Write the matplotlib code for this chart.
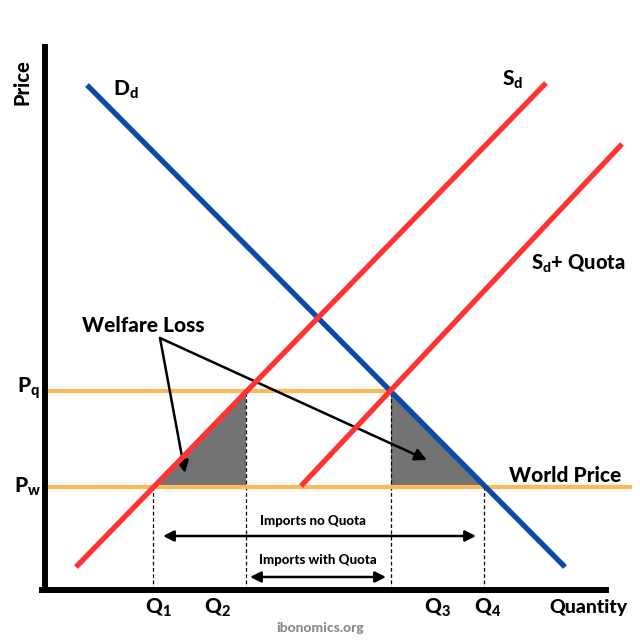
import numpy as np
import matplotlib.pyplot as plt

plt.rcParams['font.family'] = ['Lato', 'DejaVu Sans']
plt.rcParams['font.weight'] = 'black'
plt.rcParams['mathtext.fontset'] = 'custom'
plt.rcParams['mathtext.rm'] = 'Lato:black'
plt.rcParams['mathtext.it'] = 'Lato:black'
plt.rcParams['mathtext.bf'] = 'Lato:black'

# curve endpoints (quantity, price)
demand_q = [4.2, 52.0]
demand_p = [50.5, 2.3]
supply_q = [3.1, 50.1]
supply_p = [2.3, 50.7]
quota_q = [25.6, 57.7]
quota_p = [10.4, 44.6]

# price levels and quantities
p_world = 10.3
p_quota = 19.9
q_vals = [10.8, 20.1, 34.6, 43.9]   # Q1..Q4
q_labels = ["Q$_1$", "Q$_2$", "Q$_3$", "Q$_4$"]
q_label_x = [11.3, 17.3, 39.2, 44.3]

red = "#ff3333"
blue = "#0b4aa8"
orange = "#fdb857"
grey = "#737373"

fig = plt.figure(figsize=(6.4, 6.4), dpi=100)
ax = fig.add_axes([0, 0, 1, 1])
ax.set_xlim(-4.5, 59.5)
ax.set_ylim(-5, 59)

# axes lines
ax.spines['top'].set_visible(False)
ax.spines['right'].set_visible(False)
ax.spines['left'].set_position(('data', 0))
ax.spines['bottom'].set_position(('data', 0))
ax.spines['left'].set_bounds(0, 54.3)
ax.spines['bottom'].set_bounds(-0.3, 56.1)
ax.spines['left'].set_linewidth(4.3)
ax.spines['bottom'].set_linewidth(4.3)
ax.set_xticks([])
ax.set_yticks([])

q1, q2, q3, q4 = q_vals

# welfare loss triangles
ax.fill([q1, q2, q2], [p_world, p_world, p_quota], color=grey, zorder=2, lw=0)
ax.fill([q3, q3, q4], [p_quota, p_world, p_world], color=grey, zorder=2, lw=0)

# price lines
ax.plot([0.5, 58.5], [p_world, p_world], color=orange, lw=3, zorder=3)
ax.plot([0.5, q3], [p_quota, p_quota], color=orange, lw=3, zorder=3)

# dashed guides
for q, top in zip(q_vals, [p_world, p_quota, p_quota, p_world]):
    ax.plot([q, q], [0, top], color="black", lw=0.9, ls=(0, (3, 2)), zorder=2)

# curves
ax.plot(demand_q, demand_p, color=blue, lw=3.8, solid_capstyle='butt', zorder=4)
ax.plot(supply_q, supply_p, color=red, lw=3.8, solid_capstyle='butt', zorder=5)
ax.plot(quota_q, quota_p, color=red, lw=3.8, solid_capstyle='butt', zorder=5)

# labels
ax.text(-2.3, 50.8, "Price", rotation=90, ha='center', va='center', fontsize=14.5)
ax.text(54.3, -1.8, "Quantity", ha='center', va='center', fontsize=14)
ax.text(6.8, 50.0, "D$_d$", ha='left', va='center', fontsize=15)
ax.text(45.7, 51.0, "S$_d$", ha='left', va='center', fontsize=15)
ax.text(48.6, 32.6, "S$_d$+ Quota", ha='left', va='center', fontsize=14.5)
ax.text(46.4, 11.5, "World Price", ha='left', va='center', fontsize=15)
ax.text(3.7, 26.5, "Welfare Loss", ha='left', va='center', fontsize=15)
ax.text(-1.7, p_quota + 0.2, "P$_q$", ha='center', va='center', fontsize=15)
ax.text(-1.7, p_world, "P$_w$", ha='center', va='center', fontsize=15)
for lab, x in zip(q_labels, q_label_x):
    ax.text(x, -1.8, lab, ha='center', va='center', fontsize=15)

# import arrows
ax.annotate("", xy=(q1 + 1.0, 5.4), xytext=(q4 - 0.8, 5.4),
            arrowprops=dict(arrowstyle='<|-|>', color='black', lw=1.8, mutation_scale=16,
                            shrinkA=0, shrinkB=0))
ax.text(26.8, 6.9, "Imports no Quota", ha='center', va='center', fontsize=9.5)
ax.annotate("", xy=(q2 + 0.4, 1.3), xytext=(q3 - 0.5, 1.3),
            arrowprops=dict(arrowstyle='<|-|>', color='black', lw=1.8, mutation_scale=16,
                            shrinkA=0, shrinkB=0))
ax.text(27.3, 3.0, "Imports with Quota", ha='center', va='center', fontsize=9.5)

# welfare loss arrows
start = (11.5, 25.2)
for tip in [(14.0, 11.7), (38.2, 13.0)]:
    ax.annotate("", xy=tip, xytext=start,
                arrowprops=dict(arrowstyle='-|>', color='black', lw=1.8, mutation_scale=18,
                                shrinkA=0, shrinkB=0))

ax.text(27.5, -3.8, "ibonomics.org", ha='center', va='center', fontsize=10, color="#8a8a8a")

fig.savefig("out.png", dpi=100)
